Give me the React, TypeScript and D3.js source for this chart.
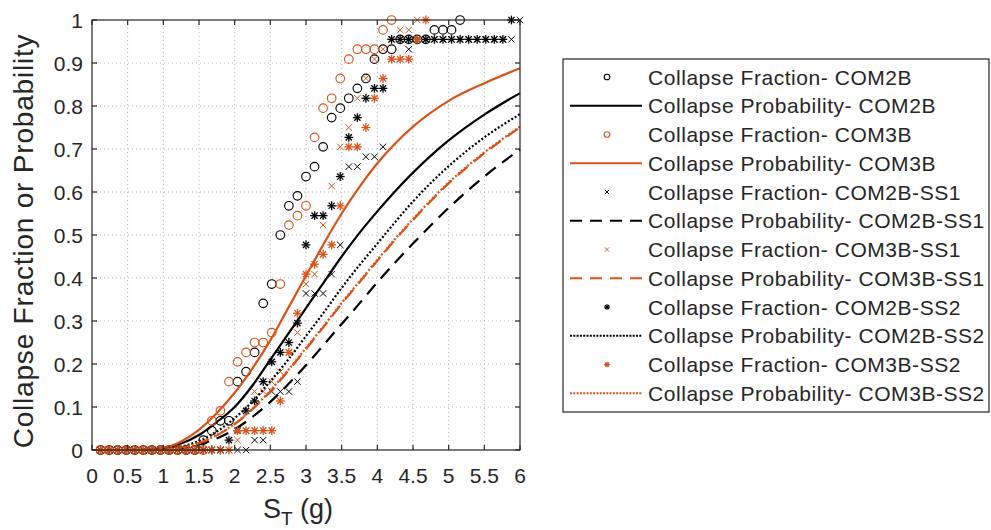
import React from "react";
import * as d3 from "d3";

// ground-motion intensity levels (g) used for the collapse fractions
const imLevels = [
  0.12, 0.24, 0.36, 0.48, 0.6, 0.72, 0.84, 0.96, 1.08, 1.2,
  1.32, 1.44, 1.56, 1.68, 1.8, 1.92, 2.04, 2.16, 2.28, 2.4,
  2.52, 2.64, 2.76, 2.88, 3.0, 3.12, 3.24, 3.36, 3.48, 3.6,
  3.72, 3.84, 3.96, 4.08, 4.2, 4.32, 4.44, 4.56, 4.68, 4.8,
  4.92, 5.04, 5.16, 5.28, 5.4, 5.52, 5.64, 5.76, 5.88, 6.0,
];

// collapse fractions (observed)
const fracCOM2B = [
  0, 0, 0, 0, 0, 0, 0, 0, 0, 0, 0, 0, 0.023, 0.045, 0.068, 0.068, 0.159, 0.182, 0.227, 0.341,
  0.386, 0.5, 0.568, 0.591, 0.636, 0.659, 0.705, 0.773, 0.795, 0.818, 0.841, 0.864, 0.909, 0.932, 0.932, 0.955,
  0.955, 0.955, 0.955, 0.977, 0.977, 0.977, 1,
];
const fracCOM3B = [
  0, 0, 0, 0, 0, 0, 0, 0, 0, 0, 0, 0, 0, 0.068, 0.091, 0.159, 0.205, 0.227, 0.25, 0.25,
  0.273, 0.386, 0.523, 0.545, 0.568, 0.727, 0.795, 0.818, 0.864, 0.909, 0.932, 0.932, 0.932, 0.977, 1,
];
const fracCOM2BSS1 = [
  0, 0, 0, 0, 0, 0, 0, 0, 0, 0, 0, 0, 0, 0, 0, 0, 0, 0, 0.023, 0.023,
  0.136, 0.136, 0.136, 0.159, 0.364, 0.364, 0.364, 0.409, 0.477, 0.659, 0.659, 0.682, 0.682, 0.705, 0.909, 0.909,
  0.932, 0.955, 0.955, 0.955, 0.955, 0.955, 0.955, 0.955, 0.955, 0.955, 0.955, 0.955, 0.955, 1,
];
const fracCOM3BSS1 = [
  0, 0, 0, 0, 0, 0, 0, 0, 0, 0, 0, 0, 0, 0, 0, 0, 0.023, 0.045, 0.136, 0.136,
  0.159, 0.182, 0.227, 0.273, 0.386, 0.409, 0.523, 0.614, 0.705, 0.75, 0.818, 0.864, 0.909, 0.932, 0.955, 0.977,
  0.977, 1,
];
const fracCOM2BSS2 = [
  0, 0, 0, 0, 0, 0, 0, 0, 0, 0, 0, 0, 0, 0, 0, 0.023, 0.045, 0.091, 0.114, 0.159,
  0.205, 0.227, 0.25, 0.295, 0.477, 0.545, 0.545, 0.568, 0.636, 0.727, 0.773, 0.818, 0.841, 0.841, 0.955, 0.955,
  0.955, 0.955, 0.955, 0.955, 0.955, 0.955, 0.955, 0.955, 0.955, 0.955, 0.955, 0.955, 1,
];
const fracCOM3BSS2 = [
  0, 0, 0, 0, 0, 0, 0, 0, 0, 0, 0, 0, 0, 0, 0, 0, 0.045, 0.045, 0.045, 0.045,
  0.045, 0.114, 0.227, 0.318, 0.409, 0.432, 0.455, 0.477, 0.568, 0.705, 0.705, 0.75, 0.818, 0.864, 0.909, 0.909,
  0.909, 0.955, 1,
];

// fitted collapse probability curves
const curveIM = [0, 0.5, 0.75, 1, 1.25, 1.5, 1.75, 2, 2.25, 2.5, 2.75, 3, 3.25, 3.5, 3.75, 4, 4.25, 4.5, 5, 5.5, 6];
const probCOM2B = [0, 0, 0.0005, 0.004, 0.015, 0.035, 0.065, 0.1, 0.15, 0.21, 0.27, 0.33, 0.39, 0.45, 0.505, 0.555, 0.602, 0.645, 0.72, 0.78, 0.83];
const probCOM3B = [0, 0, 0.001, 0.005, 0.02, 0.047, 0.086, 0.133, 0.19, 0.255, 0.33, 0.405, 0.48, 0.55, 0.612, 0.667, 0.713, 0.752, 0.812, 0.853, 0.888];
const probCOM2BSS1 = [0, 0, 0, 0.001, 0.0045, 0.013, 0.027, 0.048, 0.077, 0.112, 0.153, 0.197, 0.245, 0.293, 0.341, 0.39, 0.436, 0.48, 0.563, 0.636, 0.699];
const probCOM3BSS1 = [0, 0, 0, 0.001, 0.006, 0.016, 0.034, 0.06, 0.095, 0.136, 0.184, 0.235, 0.287, 0.34, 0.39, 0.44, 0.489, 0.535, 0.62, 0.69, 0.75];
const probCOM2BSS2 = [0, 0, 0, 0.002, 0.008, 0.021, 0.043, 0.074, 0.113, 0.16, 0.21, 0.265, 0.32, 0.377, 0.43, 0.48, 0.53, 0.578, 0.66, 0.727, 0.781];
const probCOM3BSS2 = [0, 0, 0, 0.001, 0.006, 0.017, 0.035, 0.061, 0.096, 0.138, 0.186, 0.237, 0.289, 0.342, 0.392, 0.442, 0.491, 0.537, 0.622, 0.692, 0.752];

const xTicks = [0, 0.5, 1, 1.5, 2, 2.5, 3, 3.5, 4, 4.5, 5, 5.5, 6];
const yTicks = [0, 0.1, 0.2, 0.3, 0.4, 0.5, 0.6, 0.7, 0.8, 0.9, 1];

const BLACK = "#000000";
const ORANGE = "#D95319";
const AXIS = "#262626";
const FONT = "'Liberation Sans', Arial, sans-serif";

type Marker = "circle" | "x" | "star";
type Entry =
  | { kind: "marker"; label: string; marker: Marker; color: string; data: number[] }
  | { kind: "line"; label: string; color: string; dash: string; data: number[] };

const entries: Entry[] = [
  { kind: "marker", label: "Collapse Fraction- COM2B", marker: "circle", color: BLACK, data: fracCOM2B },
  { kind: "line", label: "Collapse Probability- COM2B", color: BLACK, dash: "", data: probCOM2B },
  { kind: "marker", label: "Collapse Fraction- COM3B", marker: "circle", color: ORANGE, data: fracCOM3B },
  { kind: "line", label: "Collapse Probability- COM3B", color: ORANGE, dash: "", data: probCOM3B },
  { kind: "marker", label: "Collapse Fraction- COM2B-SS1", marker: "x", color: BLACK, data: fracCOM2BSS1 },
  { kind: "line", label: "Collapse Probability- COM2B-SS1", color: BLACK, dash: "13 8", data: probCOM2BSS1 },
  { kind: "marker", label: "Collapse Fraction- COM3B-SS1", marker: "x", color: ORANGE, data: fracCOM3BSS1 },
  { kind: "line", label: "Collapse Probability- COM3B-SS1", color: ORANGE, dash: "13 8", data: probCOM3BSS1 },
  { kind: "marker", label: "Collapse Fraction- COM2B-SS2", marker: "star", color: BLACK, data: fracCOM2BSS2 },
  { kind: "line", label: "Collapse Probability- COM2B-SS2", color: BLACK, dash: "2 2", data: probCOM2BSS2 },
  { kind: "marker", label: "Collapse Fraction- COM3B-SS2", marker: "star", color: ORANGE, data: fracCOM3BSS2 },
  { kind: "line", label: "Collapse Probability- COM3B-SS2", color: ORANGE, dash: "2 2", data: probCOM3BSS2 },
];

function MarkerShape({ type, cx, cy, color, s }: { type: Marker; cx: number; cy: number; color: string; s: number }) {
  if (type === "circle") {
    return <circle cx={cx} cy={cy} r={4.3 * s} fill="none" stroke={color} strokeWidth={1.15} />;
  }
  if (type === "x") {
    const d = 3.2 * s;
    return (
      <g stroke={color} strokeWidth={1}>
        <line x1={cx - d} y1={cy - d} x2={cx + d} y2={cy + d} />
        <line x1={cx - d} y1={cy + d} x2={cx + d} y2={cy - d} />
      </g>
    );
  }
  const a = 4.4 * s;
  const b = 3.1 * s;
  return (
    <g stroke={color} strokeWidth={1.3}>
      <line x1={cx - a} y1={cy} x2={cx + a} y2={cy} />
      <line x1={cx} y1={cy - a} x2={cx} y2={cy + a} />
      <line x1={cx - b} y1={cy - b} x2={cx + b} y2={cy + b} />
      <line x1={cx - b} y1={cy + b} x2={cx + b} y2={cy - b} />
    </g>
  );
}

export default function App() {
  const x = d3.scaleLinear().domain([0, 6]).range([92, 520]);
  const y = d3.scaleLinear().domain([0, 1]).range([450, 20]);
  const [x0, x1] = x.range();
  const [y0, y1] = y.range();

  const line = d3
    .line<[number, number]>()
    .x((d) => x(d[0]))
    .y((d) => y(d[1]))
    .curve(d3.curveMonotoneX);

  // legend layout
  const legX = 563;
  const legY = 59;
  const legW = 426;
  const legH = 353;
  const rowH = 28.75;
  const firstRow = 77;

  return (
    <div style={{ position: "fixed", left: 0, top: 0, width: 991, height: 530, background: "#fff" }}>
      <svg width={991} height={530} style={{ display: "block", fontFamily: FONT }}>
        <rect width={991} height={530} fill="#fff" />

        {/* grid */}
        <g stroke="#b4b4b4" strokeWidth={1} strokeDasharray="1 3">
          {xTicks.slice(1, -1).map((t) => (
            <line key={"gx" + t} x1={x(t)} x2={x(t)} y1={y1} y2={y0} />
          ))}
          {yTicks.slice(1, -1).map((t) => (
            <line key={"gy" + t} x1={x0} x2={x1} y1={y(t)} y2={y(t)} />
          ))}
        </g>

        {/* series */}
        <g>
          {entries.map((e, k) =>
            e.kind === "line" ? (
              <path
                key={k}
                d={line(curveIM.map((v, i) => [v, e.data[i]] as [number, number])) || ""}
                fill="none"
                stroke={e.color}
                strokeWidth={2.2}
                strokeDasharray={e.dash || undefined}
              />
            ) : (
              <g key={k}>
                {e.data.map((v, i) => (
                  <MarkerShape key={i} type={e.marker} cx={x(imLevels[i])} cy={y(v)} color={e.color} s={1} />
                ))}
              </g>
            )
          )}
        </g>

        {/* axes box and ticks */}
        <g stroke={AXIS} strokeWidth={1.2} fill="none">
          <rect x={x0} y={y1} width={x1 - x0} height={y0 - y1} />
          {xTicks.map((t) => (
            <g key={"tx" + t}>
              <line x1={x(t)} x2={x(t)} y1={y0} y2={y0 - 5} />
              <line x1={x(t)} x2={x(t)} y1={y1} y2={y1 + 5} />
            </g>
          ))}
          {yTicks.map((t) => (
            <g key={"ty" + t}>
              <line x1={x0} x2={x0 + 5} y1={y(t)} y2={y(t)} />
              <line x1={x1} x2={x1 - 5} y1={y(t)} y2={y(t)} />
            </g>
          ))}
        </g>

        {/* tick labels */}
        <g fill={AXIS} fontSize={21}>
          {xTicks.map((t) => (
            <text key={"lx" + t} x={x(t)} y={483} textAnchor="middle">
              {String(t)}
            </text>
          ))}
          {yTicks.map((t) => (
            <text key={"ly" + t} x={83} y={y(t) + 7.5} textAnchor="end">
              {String(t)}
            </text>
          ))}
        </g>

        {/* axis titles */}
        <text x={298} y={518} textAnchor="middle" fontSize={27} fill={AXIS}>
          S<tspan fontSize={19} dy={7}>T</tspan>
          <tspan dy={-7}> (g)</tspan>
        </text>
        <text
          transform={`translate(33,${(y0 + y1) / 2 + 6}) rotate(-90)`}
          textAnchor="middle"
          fontSize={28}
          letterSpacing={0.8}
          fill={AXIS}
        >
          Collapse Fraction or Probability
        </text>

        {/* legend */}
        <rect x={legX} y={legY} width={legW} height={legH} fill="#fff" stroke={AXIS} strokeWidth={1.2} />
        {entries.map((e, k) => {
          const cy = firstRow + k * rowH;
          return (
            <g key={"leg" + k}>
              {e.kind === "line" ? (
                <line
                  x1={570}
                  x2={642}
                  y1={cy}
                  y2={cy}
                  stroke={e.color}
                  strokeWidth={2}
                  strokeDasharray={e.dash === "13 8" ? "12 8" : e.dash ? "2 1.3" : undefined}
                />
              ) : (
                <MarkerShape type={e.marker} cx={607} cy={cy} color={e.color} s={0.65} />
              )}
              <text x={648} y={cy + 7.5} fontSize={21} letterSpacing={0.55} fill={AXIS}>
                {e.label}
              </text>
            </g>
          );
        })}
      </svg>
    </div>
  );
}
